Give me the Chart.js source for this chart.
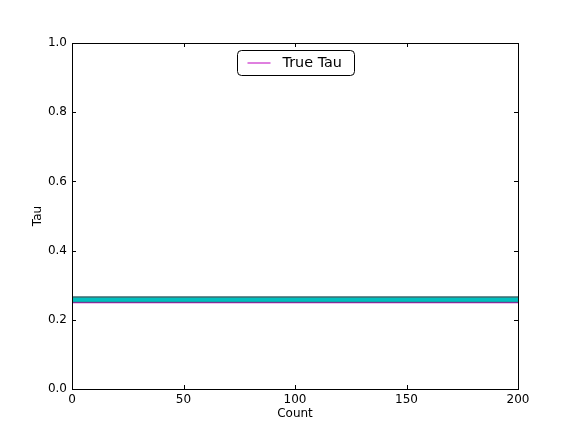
<!DOCTYPE html>
<html>
<head>
<meta charset="utf-8">
<script src="https://cdn.jsdelivr.net/npm/chart.js@4/dist/chart.umd.min.js"></script>
<style>
  html, body { margin: 0; padding: 0; background: #fff; }
  canvas { display: block; }
</style>
</head>
<body>
<canvas id="chart" width="576" height="432"></canvas>
<script>
// values
const counts = [0, 50, 100, 150, 200];
const upperTau = [0.266, 0.266, 0.266, 0.266, 0.266];
const lowerTau = [0.252, 0.252, 0.252, 0.252, 0.252];
const trueTau = [0.25, 0.25, 0.25, 0.25, 0.25];
const xTicks = [0, 50, 100, 150, 200];
const yTicks = [0.0, 0.2, 0.4, 0.6, 0.8, 1.0];

const pts = (ys) => counts.map((c, i) => ({ x: c, y: ys[i] }));

Chart.defaults.font.family = 'DejaVu Sans';
Chart.defaults.font.size = 12;
Chart.defaults.color = '#000';

// matplotlib-style frame with inward ticks on every side
const frame = {
  id: 'frame',
  afterDatasetsDraw(chart) {
    const { ctx, chartArea: a, scales } = chart;
    ctx.save();
    ctx.strokeStyle = '#000';
    ctx.lineWidth = 1;
    ctx.beginPath();
    xTicks.forEach(v => {
      const px = Math.round(scales.x.getPixelForValue(v)) + 0.5;
      ctx.moveTo(px, a.bottom); ctx.lineTo(px, a.bottom - 4);
      ctx.moveTo(px, a.top); ctx.lineTo(px, a.top + 4);
    });
    yTicks.forEach(v => {
      const py = Math.round(scales.y.getPixelForValue(v)) + 0.5;
      ctx.moveTo(a.left, py); ctx.lineTo(a.left + 4, py);
      ctx.moveTo(a.right, py); ctx.lineTo(a.right - 4, py);
    });
    ctx.stroke();
    ctx.strokeRect(Math.round(a.left) + 0.5, Math.round(a.top) + 0.5,
                   Math.round(a.right - a.left), Math.round(a.bottom - a.top));
    ctx.restore();
  }
};

// legend box inside the axes, upper center
const tauLegend = {
  id: 'tauLegend',
  afterDraw(chart) {
    const { ctx, chartArea: a } = chart;
    const w = 117, h = 25;
    const x0 = Math.round((a.left + a.right) / 2 - w / 2) + 0.5;
    const y0 = Math.round(a.top) + 7.5;
    ctx.save();
    ctx.beginPath();
    ctx.roundRect(x0, y0, w, h, 4);
    ctx.fillStyle = '#fff';
    ctx.fill();
    ctx.strokeStyle = '#000';
    ctx.lineWidth = 1;
    ctx.stroke();
    ctx.beginPath();
    ctx.strokeStyle = '#bf00bf';
    ctx.moveTo(x0 + 10, y0 + 12.5);
    ctx.lineTo(x0 + 33, y0 + 12.5);
    ctx.stroke();
    ctx.fillStyle = '#000';
    ctx.font = '14.4px "DejaVu Sans"';
    ctx.textBaseline = 'middle';
    ctx.fillText('True Tau', x0 + 45, y0 + 13);
    ctx.restore();
  }
};

new Chart(document.getElementById('chart'), {
  type: 'line',
  data: {
    datasets: [
      {
        label: 'Upper',
        data: pts(upperTau),
        borderColor: '#3b6a6e',
        borderWidth: 1.5,
        backgroundColor: '#00bfbf',
        fill: '+1',
        pointRadius: 0
      },
      {
        label: 'Lower',
        data: pts(lowerTau),
        borderColor: '#3b6a6e',
        borderWidth: 1.5,
        fill: false,
        pointRadius: 0
      },
      {
        label: 'True Tau',
        data: pts(trueTau),
        borderColor: '#bf00bf',
        borderWidth: 1.5,
        fill: false,
        pointRadius: 0
      }
    ]
  },
  options: {
    responsive: false,
    animation: false,
    layout: { padding: { top: 43, right: 58, left: 31, bottom: 11 } },
    plugins: { legend: { display: false }, tooltip: { enabled: false } },
    scales: {
      x: {
        type: 'linear',
        min: 0, max: 200,
        afterBuildTicks: s => { s.ticks = xTicks.map(v => ({ value: v })); },
        afterFit: s => { s.height = 32; },
        grid: { display: false, drawTicks: false },
        border: { display: false },
        ticks: { padding: 4, maxRotation: 0, callback: v => String(v) },
        title: { display: true, text: 'Count', padding: { top: 2, bottom: 0 } }
      },
      y: {
        min: 0, max: 1,
        afterBuildTicks: s => { s.ticks = yTicks.map(v => ({ value: v })); },
        afterFit: s => { s.width = 41; },
        grid: { display: false, drawTicks: false },
        border: { display: false },
        ticks: { padding: 5, callback: v => Number(v).toFixed(1) },
        title: { display: true, text: 'Tau', padding: { top: 0, bottom: 0 } }
      }
    }
  },
  plugins: [frame, tauLegend]
});
</script>
</body>
</html>
